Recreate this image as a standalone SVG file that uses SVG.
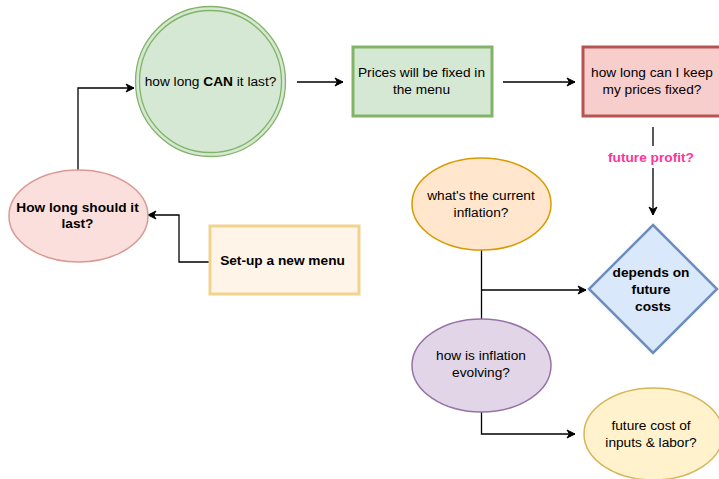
<svg xmlns="http://www.w3.org/2000/svg" width="719" height="479" viewBox="0 0 719 479">
  <defs>
    <marker id="arrow" markerWidth="10" markerHeight="10" refX="9" refY="5" orient="auto" markerUnits="userSpaceOnUse">
      <path d="M1,1 L9,5 L1,9 L3.5,5 Z" fill="#000" stroke="#000" stroke-width="1"/>
    </marker>
  </defs>
  <style>
    text { font-family: "Liberation Sans", Arial, Helvetica, sans-serif; font-size: 13.7px; fill: #000; text-anchor: middle; }
    .b { font-weight: bold; }
    .edge { fill: none; stroke: #000; stroke-width: 1.3; }
  </style>
  <rect width="719" height="479" fill="#fff"/>

  <!-- connectors -->
  <g id="connectors">
    <path class="edge" d="M78,170 L78,88 L134,88" marker-end="url(#arrow)"/>
    <path class="edge" d="M297,82 L343,82" marker-end="url(#arrow)"/>
    <path class="edge" d="M503,82 L575,82" marker-end="url(#arrow)"/>
    <path class="edge" d="M653,127 L653,146 M653,168 L653,215" marker-end="url(#arrow)"/>
    <path class="edge" d="M209,262 L179,262 L179,215 L148,215" marker-end="url(#arrow)"/>
    <path class="edge" d="M481.5,250 L481.5,319"/>
    <path class="edge" d="M481.5,290 L586,290" marker-end="url(#arrow)"/>
    <path class="edge" d="M481.5,412 L481.5,434 L575,434" marker-end="url(#arrow)"/>
    <text x="651" y="162" class="b" style="fill:#FF3399">future profit?</text>
  </g>

  <g id="node-can-last">
    <circle cx="210.5" cy="81.5" r="75" fill="#d5e8d4" stroke="#82b366" stroke-width="1.3"/>
    <circle cx="210.5" cy="81.5" r="71" fill="none" stroke="#82b366" stroke-width="1.3"/>
    <text x="210.5" y="86">how long <tspan class="b">CAN</tspan> it last?</text>
  </g>

  <g id="node-prices-fixed">
    <rect x="353" y="47" width="139" height="69" fill="#d5e8d4" stroke="#82b366" stroke-width="3"/>
    <text x="421.5" y="77">Prices will be fixed in</text>
    <text x="421.5" y="93.5">the menu</text>
  </g>

  <g id="node-keep-prices">
    <rect x="583" y="47" width="139" height="69" fill="#f8cecc" stroke="#b85450" stroke-width="3"/>
    <text x="652" y="77">how long can I keep</text>
    <text x="652" y="93.5">my prices fixed?</text>
  </g>

  <g id="node-should-last">
    <ellipse cx="78.5" cy="216" rx="69.5" ry="46" fill="#fadfdd" stroke="#d99a94" stroke-width="1.5"/>
    <text x="77.5" y="211.5" class="b">How long should it</text>
    <text x="77.5" y="228" class="b">last?</text>
  </g>

  <g id="node-setup-menu">
    <rect x="210" y="226" width="149" height="68" fill="#fff4e8" stroke="#f2d38e" stroke-width="3"/>
    <text x="282.5" y="265" class="b">Set-up a new menu</text>
  </g>

  <g id="node-current-inflation">
    <ellipse cx="481.5" cy="204" rx="69.5" ry="46" fill="#ffe6cc" stroke="#d79b00" stroke-width="1.5"/>
    <text x="481" y="200">what's the current</text>
    <text x="481" y="216.5">inflation?</text>
  </g>

  <g id="node-future-costs">
    <polygon points="653,225 717,289 653,353 589,289" fill="#dae8fc" stroke="#6c8ebf" stroke-width="2.5"/>
    <text x="651" y="277" class="b">depends on</text>
    <text x="651" y="293.5" class="b">future</text>
    <text x="653" y="310.5" class="b">costs</text>
  </g>

  <g id="node-inflation-evolving">
    <ellipse cx="481.5" cy="365.5" rx="69.5" ry="46.5" fill="#e1d5e7" stroke="#9673a6" stroke-width="1.5"/>
    <text x="481" y="360">how is inflation</text>
    <text x="481" y="376.5">evolving?</text>
  </g>

  <g id="node-inputs-labor">
    <ellipse cx="653.5" cy="434" rx="69.5" ry="46" fill="#fff2cc" stroke="#d6b656" stroke-width="1.5"/>
    <text x="651" y="430">future cost of</text>
    <text x="651" y="446.5">inputs &amp; labor?</text>
  </g>
</svg>
